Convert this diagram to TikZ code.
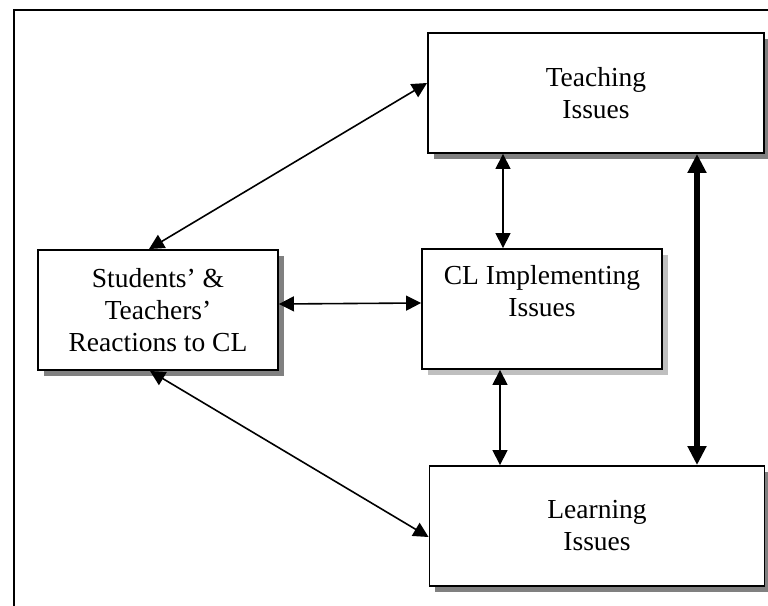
\documentclass[tikz,border=0pt]{standalone}
\usepackage{fontspec}
\setmainfont{Liberation Serif}
\usetikzlibrary{positioning}
\usetikzlibrary{arrows.meta}
\usetikzlibrary{shadows}
\tikzstyle{issue}=[draw, line width=1.9pt, fill=white, minimum height=120pt,
  align=center, font=\fontsize{27.5}{32}\selectfont,
  drop shadow={shadow xshift=5.5pt, shadow yshift=-5.5pt, fill=gray, opacity=1}]
\tikzstyle{link}=[line width=1.6pt, {Triangle[length=15pt,width=15pt]}-{Triangle[length=15pt,width=15pt]}]
\tikzstyle{biglink}=[line width=5.5pt, {Triangle[length=19pt,width=18pt]}-{Triangle[length=19pt,width=18pt]}]

\begin{document}
\begin{tikzpicture}[x=1pt, y=-1pt]
        \useasboundingbox (0,0) rectangle (768,605);
        % frame, only top and left edge fit on the page
        \draw[line width=1.9pt] (14,620) -- (14,10) -- (790,10);
        \node[issue, minimum width=336pt] (teach) at (596,93) {Teaching\\Issues};
        \node[issue, minimum width=240pt] (react) at (158,310) {Students’ \&\\Teachers’\\Reactions to CL};
        \node[issue, minimum width=240pt, inner sep=0pt,
              drop shadow={shadow xshift=5.5pt, shadow yshift=-5.5pt, fill=black!25, opacity=1}]
              (impl) at (542,309) {\parbox[c][120pt][t]{240pt}{\centering\vspace{16pt}CL Implementing\\Issues}};
        \node[issue, minimum width=335pt] (learn) at (597,526) {Learning\\Issues};
        \draw[link] ([yshift=10pt]teach.west) -- ([xshift=-9pt]react.north);
        \draw[link] ([xshift=-8pt]react.south) -- ([yshift=-11pt]learn.west);
        \draw[link] ([yshift=6pt]react.east) -- ([yshift=6pt]impl.west);
        \draw[link] ([xshift=-39pt]impl.north) -- ([xshift=-39pt]impl.north |- teach.south);
        \draw[link] ([xshift=-42pt]impl.south) -- ([xshift=-42pt]impl.south |- learn.north);
        \draw[biglink] ([xshift=101pt]teach.south) -- ([xshift=101pt]teach.south |- learn.north);
\end{tikzpicture}
\end{document}
